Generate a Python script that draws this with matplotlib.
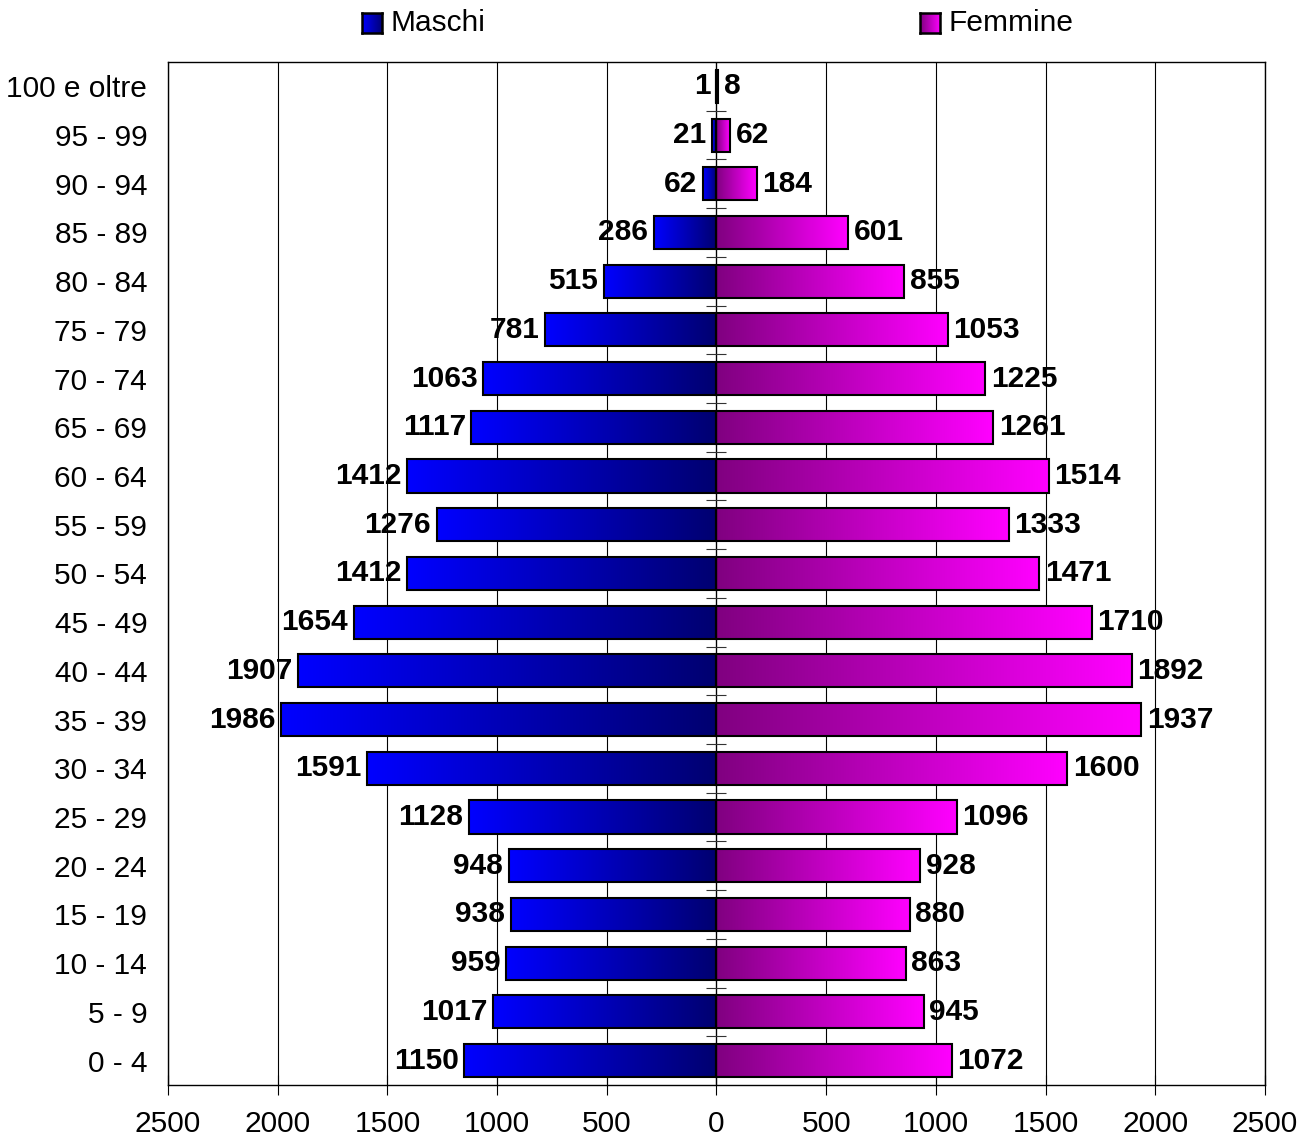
import numpy as np
import matplotlib.pyplot as plt
from matplotlib.patches import Rectangle
from matplotlib.colors import LinearSegmentedColormap

plt.rcParams['font.family'] = ['Liberation Sans', 'DejaVu Sans']

age_groups = ["0 - 4", "5 - 9", "10 - 14", "15 - 19", "20 - 24", "25 - 29", "30 - 34",
              "35 - 39", "40 - 44", "45 - 49", "50 - 54", "55 - 59", "60 - 64", "65 - 69",
              "70 - 74", "75 - 79", "80 - 84", "85 - 89", "90 - 94", "95 - 99", "100 e oltre"]
maschi = [1150, 1017, 959, 938, 948, 1128, 1591, 1986, 1907, 1654, 1412, 1276, 1412,
          1117, 1063, 781, 515, 286, 62, 21, 1]
femmine = [1072, 945, 863, 880, 928, 1096, 1600, 1937, 1892, 1710, 1471, 1333, 1514,
           1261, 1225, 1053, 855, 601, 184, 62, 8]
x_ticks = [-2500, -2000, -1500, -1000, -500, 0, 500, 1000, 1500, 2000, 2500]

cmap_m = LinearSegmentedColormap.from_list("m", ["#0000ff", "#000070"])
cmap_f = LinearSegmentedColormap.from_list("f", ["#800080", "#ff00ff"])
grad = np.linspace(0, 1, 256).reshape(1, -1)
FS = 21.5

fig = plt.figure(figsize=(13.16, 11.44), dpi=100)
ax = fig.add_axes([0.1277, 0.0516, 0.8335, 0.8942])

h = 0.68
for i, (m, f) in enumerate(zip(maschi, femmine)):
    # males: gradient bright blue (outer) -> navy (centre)
    ax.imshow(grad, cmap=cmap_m, aspect="auto", extent=(-m, 0, i - h / 2, i + h / 2),
              interpolation="bilinear", zorder=2)
    ax.add_patch(Rectangle((-m, i - h / 2), m, h, fill=False, edgecolor="black", lw=1.5, zorder=3))
    ax.imshow(grad, cmap=cmap_f, aspect="auto", extent=(0, f, i - h / 2, i + h / 2),
              interpolation="bilinear", zorder=2)
    ax.add_patch(Rectangle((0, i - h / 2), f, h, fill=False, edgecolor="black", lw=1.5, zorder=3))
    ax.annotate(str(m), (-m, i), xytext=(-4, 0), textcoords="offset points",
                ha="right", va="center", fontsize=FS, fontweight="bold")
    ax.annotate(str(f), (f, i), xytext=(4, 0), textcoords="offset points",
                ha="left", va="center", fontsize=FS, fontweight="bold")

ax.set_xlim(-2500, 2500)
ax.set_ylim(-0.5, 20.5)

# centre axis with small cross ticks between classes
ax.axvline(0, color="black", lw=0.9, zorder=4)
bounds = np.arange(len(age_groups) - 1) + 0.5
ax.plot(np.zeros_like(bounds), bounds, ls="none", marker="_", markersize=15,
        markeredgewidth=0.8, color="#333333", zorder=4)

for x in x_ticks:
    ax.axvline(x, color="black", lw=0.8, zorder=1)

ax.set_yticks(range(len(age_groups)))
ax.set_yticklabels(age_groups, fontsize=FS)
ax.tick_params(axis="y", length=0, pad=15)
ax.set_xticks(x_ticks)
ax.set_xticklabels([str(abs(x)) for x in x_ticks], fontsize=FS)
ax.tick_params(axis="x", direction="inout", length=14, width=0.8, pad=11)
for s in ax.spines.values():
    s.set_linewidth(1.0)

# legend above the plot
def legend_item(x, cmap, label):
    lax = fig.add_axes([x, 0.9711, 0.0152, 0.0175])
    lax.imshow(grad, cmap=cmap, aspect="auto", interpolation="bilinear")
    lax.set_xticks([])
    lax.set_yticks([])
    for s in lax.spines.values():
        s.set_linewidth(1.8)
    fig.text(x + 0.0213, 0.9800, label, fontsize=FS, va="center", ha="left")

legend_item(0.2751, cmap_m, "Maschi")
legend_item(0.6991, cmap_f, "Femmine")

fig.savefig("out.png", dpi=100)
